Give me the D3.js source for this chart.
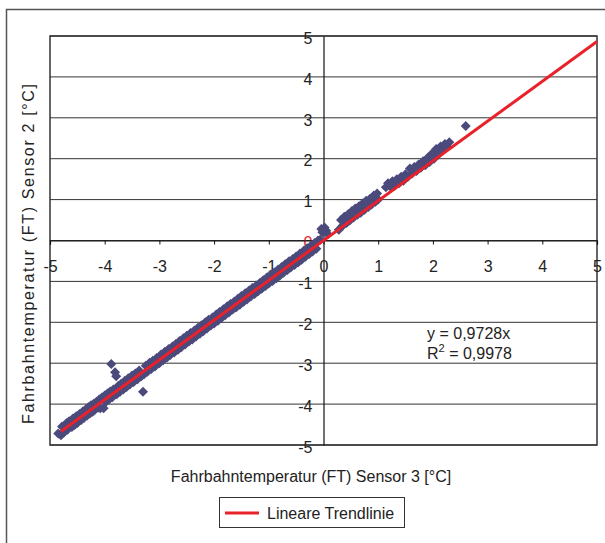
<!DOCTYPE html>
<html>
<head>
<meta charset="utf-8">
<script src="https://cdn.jsdelivr.net/npm/d3@7/dist/d3.min.js"></script>
<style>
  html, body { margin: 0; padding: 0; background: #fff; }
  svg { display: block; font-family: "Liberation Sans", Arial, sans-serif; }
</style>
</head>
<body>
<svg id="chart" width="605" height="543"></svg>
<script>
// Road surface temperature: sensor 3 (x) versus sensor 2 (y), in °C
const sensor3 = [
  -4.85,-4.80,-4.78,-4.75,-4.70,-4.68,-4.65,-4.60,-4.58,-4.55,-4.52,-4.50,-4.46,-4.43,-4.40,-4.38,
  -4.35,-4.32,-4.30,-4.27,-4.25,-4.22,-4.20,-4.18,-4.15,-4.12,-4.10,-4.08,-4.05,-4.02,-4.00,-3.98,
  -3.95,-3.92,-3.90,-3.88,-3.86,-3.84,-3.81,-3.79,-3.78,-3.75,-3.72,-3.70,-3.66,-3.63,-3.60,-3.57,
  -3.54,-3.50,-3.47,-3.44,-3.40,-3.37,-3.33,-3.30,-3.28,-3.25,-3.22,-3.18,-3.15,-3.12,-3.08,-3.05,
  -3.00,-2.97,-2.93,-2.90,-2.86,-2.83,-2.80,-2.76,-2.73,-2.70,-2.66,-2.63,-2.60,-2.56,-2.53,-2.50,
  -2.46,-2.43,-2.40,-2.36,-2.33,-2.30,-2.26,-2.23,-2.20,-2.16,-2.13,-2.10,-2.06,-2.03,-2.00,-1.96,
  -1.93,-1.90,-1.86,-1.83,-1.80,-1.76,-1.73,-1.70,-1.66,-1.63,-1.60,-1.56,-1.53,-1.50,-1.46,-1.43,
  -1.40,-1.36,-1.33,-1.30,-1.26,-1.23,-1.20,-1.16,-1.13,-1.10,-1.06,-1.03,-1.00,-0.96,-0.93,-0.90,
  -0.86,-0.83,-0.80,-0.76,-0.73,-0.70,-0.66,-0.63,-0.60,-0.56,-0.53,-0.50,-0.46,-0.43,-0.40,-0.36,
  -0.33,-0.30,-0.26,-0.23,-0.20,-0.16,-0.13,-0.10,-0.06,-0.04,-0.02, 0.02, 0.05, 0.08,
   0.28, 0.32, 0.35, 0.38, 0.42, 0.45, 0.48, 0.52, 0.55, 0.58, 0.62, 0.65, 0.68, 0.72, 0.75, 0.78,
   0.82, 0.85, 0.88, 0.92, 0.95, 0.98, 1.00,
   1.14, 1.18, 1.22, 1.26, 1.30, 1.34, 1.38, 1.42, 1.46, 1.50, 1.54, 1.58, 1.62, 1.66, 1.70, 1.74,
   1.78, 1.82, 1.86, 1.90, 1.94, 1.98, 2.02, 2.06, 2.10, 2.14, 2.18, 2.22, 2.26, 2.30, 2.60
];
const sensor2 = [
  -4.72,-4.76,-4.55,-4.70,-4.47,-4.63,-4.42,-4.56,-4.35,-4.51,-4.30,-4.46,-4.24,-4.39,-4.18,-4.34,
  -4.13,-4.28,-4.08,-4.23,-4.03,-4.19,-3.99,-4.14,-3.94,-4.09,-3.89,-4.10,-3.84,-4.10,-3.79,-3.95,
  -3.74,-3.89,-3.69,-3.02,-3.83,-3.64,-3.22,-3.32,-3.76,-3.55,-3.70,-3.50,-3.64,-3.43,-3.58,-3.37,
  -3.52,-3.30,-3.46,-3.25,-3.39,-3.18,-3.32,-3.70,-3.27,-3.06,-3.21,-2.99,-3.14,-2.94,-3.08,-2.87,
  -3.00,-2.79,-2.93,-2.72,-2.86,-2.65,-2.80,-2.59,-2.74,-2.53,-2.67,-2.46,-2.61,-2.39,-2.54,-2.33,
  -2.47,-2.26,-2.42,-2.20,-2.35,-2.14,-2.28,-2.07,-2.22,-2.00,-2.15,-1.94,-2.08,-1.88,-2.03,-1.81,
  -1.96,-1.75,-1.89,-1.68,-1.83,-1.61,-1.76,-1.55,-1.69,-1.49,-1.64,-1.42,-1.57,-1.36,-1.50,-1.29,
  -1.44,-1.22,-1.37,-1.16,-1.31,-1.10,-1.25,-1.03,-1.18,-0.97,-1.11,-0.90,-1.05,-0.83,-0.99,-0.78,
  -0.92,-0.71,-0.86,-0.64,-0.79,-0.58,-0.72,-0.51,-0.66,-0.45,-0.60,-0.39,-0.53,-0.32,-0.47,-0.25,
  -0.40,-0.19,-0.33,-0.13,-0.27,-0.06,-0.20, 0.00, 0.02, 0.28, 0.20, 0.32, 0.24, 0.15,
   0.26, 0.50, 0.36, 0.58, 0.43, 0.64, 0.49, 0.72, 0.56, 0.78, 0.63, 0.84, 0.68, 0.91, 0.75, 0.97,
   0.82, 1.02, 0.88, 1.10, 0.95, 1.15, 1.00,
   1.30, 1.40, 1.32, 1.45, 1.34, 1.50, 1.40, 1.56, 1.46, 1.62, 1.55, 1.76, 1.64, 1.80, 1.70, 1.86,
   1.78, 1.94, 1.84, 2.02, 1.92, 2.12, 2.00, 2.24, 2.10, 2.30, 2.20, 2.36, 2.30, 2.40, 2.80
];

// Linear trendline through the origin
const slope = 0.9728;
const rSquared = "0,9978";
const trendStart = -4.8;
const trendEnd = 5;

const xTicks = [-5, -4, -3, -2, -1, 0, 1, 2, 3, 4, 5];
const yTicks = [-5, -4, -3, -2, -1, 0, 1, 2, 3, 4, 5];

const xTitle = "Fahrbahntemperatur (FT) Sensor 3 [°C]";
const yTitle = "Fahrbahntemperatur (FT) Sensor 2 [°C]";
const legendLabel = "Lineare Trendlinie";

const FONT = 16;
const svg = d3.select("#chart");
const plot = { left: 50, right: 597, top: 36, bottom: 445 };

const x = d3.scaleLinear().domain([-5, 5]).range([plot.left, plot.right]);
const y = d3.scaleLinear().domain([-5, 5]).range([plot.bottom, plot.top]);

const fmt = d => String(d);

// outer chart frame
svg.append("rect")
  .attr("x", 6.5).attr("y", 9.5)
  .attr("width", 640).attr("height", 560)
  .attr("fill", "#fff").attr("stroke", "#555").attr("stroke-width", 1.5);

// horizontal gridlines
svg.append("g").selectAll("line")
  .data(yTicks)
  .join("line")
  .attr("x1", plot.left).attr("x2", plot.right)
  .attr("y1", d => y(d)).attr("y2", d => y(d))
  .attr("stroke", "#333").attr("stroke-width", 1);

// plot frame
svg.append("rect")
  .attr("x", plot.left).attr("y", plot.top)
  .attr("width", plot.right - plot.left).attr("height", plot.bottom - plot.top)
  .attr("fill", "none").attr("stroke", "#333").attr("stroke-width", 1.5);

// vertical axis through x = 0
const yAxis = d3.axisLeft(y).tickValues(yTicks).tickSize(0).tickPadding(11).tickFormat(fmt);
const gy = svg.append("g").attr("transform", `translate(${x(0)},0)`).call(yAxis);
gy.select(".domain").attr("stroke", "#111").attr("stroke-width", 1.2);
gy.selectAll("text")
  .attr("dy", "0.45em")
  .attr("font-size", FONT).attr("fill", d => d === 0 ? "#e3262d" : "#222")
  .attr("font-family", "Liberation Sans, Arial, sans-serif");

// horizontal axis through y = 0
const xAxis = d3.axisBottom(x).tickValues(xTicks).tickSize(4).tickPadding(16).tickFormat(fmt);
const gx = svg.append("g").attr("transform", `translate(0,${y(0)})`).call(xAxis);
gx.select(".domain").attr("stroke", "#111").attr("stroke-width", 1.2);
gx.selectAll(".tick line").attr("stroke", "#111");
gx.selectAll("text")
  .attr("font-size", FONT).attr("fill", "#222")
  .attr("font-family", "Liberation Sans, Arial, sans-serif");

// scatter markers
const points = sensor3.map((v, i) => [v, sensor2[i]]);
const diamond = d3.symbol().type(d3.symbolSquare).size(50);
svg.append("g").selectAll("path")
  .data(points)
  .join("path")
  .attr("d", diamond)
  .attr("transform", d => `translate(${x(d[0])},${y(d[1])}) rotate(45)`)
  .attr("fill", "#4b4a7c");

// trendline
svg.append("line")
  .attr("x1", x(trendStart)).attr("y1", y(slope * trendStart))
  .attr("x2", x(trendEnd)).attr("y2", y(slope * trendEnd))
  .attr("stroke", "#e8222b").attr("stroke-width", 3);

// regression equation
const eq = svg.append("g").attr("font-size", FONT).attr("fill", "#222");
eq.append("text").attr("x", 427).attr("y", 339)
  .text("y = " + String(slope).replace(".", ",") + "x");
const r2 = eq.append("text").attr("x", 427).attr("y", 359);
r2.append("tspan").text("R");
r2.append("tspan").attr("dy", -7).attr("font-size", 11).text("2");
r2.append("tspan").attr("dy", 7).text(" = " + rSquared);

// axis titles
svg.append("text")
  .attr("x", 311).attr("y", 482)
  .attr("text-anchor", "middle").attr("font-size", FONT).attr("fill", "#222")
  .text(xTitle);
svg.append("text")
  .attr("transform", "translate(34,254) rotate(-90)")
  .attr("text-anchor", "middle").attr("font-size", FONT).attr("fill", "#222")
  .attr("textLength", 340).attr("lengthAdjust", "spacing")
  .text(yTitle);

// legend
const lg = svg.append("g");
lg.append("rect").attr("x", 219.5).attr("y", 497.5).attr("width", 185).attr("height", 30)
  .attr("fill", "#fff").attr("stroke", "#333").attr("stroke-width", 1);
lg.append("line").attr("x1", 225).attr("x2", 259).attr("y1", 513).attr("y2", 513)
  .attr("stroke", "#e8222b").attr("stroke-width", 3);
lg.append("text").attr("x", 267).attr("y", 518.5).attr("font-size", FONT).attr("fill", "#222")
  .text(legendLabel);
</script>
</body>
</html>
